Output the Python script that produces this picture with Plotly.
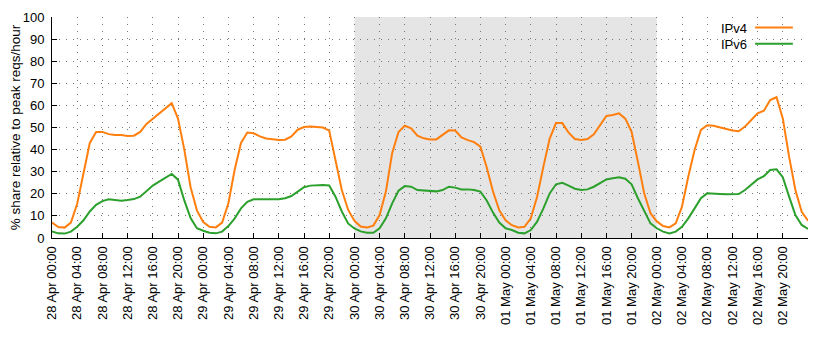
import pandas as pd
import plotly.graph_objects as go

# Hourly samples, 28 Apr 00:00 .. 03 May 00:00
start = "2013-04-28 00:00"
ipv4 = [
    7.0, 5.0, 4.7, 7.0, 15.5, 29.0, 43.0, 48.0, 48.0, 47.0, 46.6, 46.6, 46.2, 46.3, 48.0, 51.6, 54.0, 56.4, 58.7, 61.0, 54.0, 40.0, 23.0, 12.5,
    7.2, 5.1, 4.8, 7.0, 15.7, 31.0, 43.0, 47.7, 47.4, 46.0, 45.0, 44.5, 44.3, 44.5, 46.0, 49.0, 50.2, 50.5, 50.2, 50.0, 48.6, 35.0, 21.7, 12.8,
    7.8, 5.2, 4.8, 5.6, 10.4, 21.0, 38.5, 48.0, 50.8, 49.6, 46.3, 45.1, 44.6, 44.6, 46.6, 48.7, 48.6, 45.5, 44.3, 43.4, 41.3, 32.0, 21.0, 12.5,
    8.0, 5.8, 4.8, 5.1, 8.9, 18.7, 32.3, 45.0, 52.0, 52.0, 47.7, 44.8, 44.3, 44.8, 46.9, 51.0, 55.2, 55.7, 56.4, 54.0, 48.0, 34.5, 20.2, 11.2,
    7.5, 5.4, 4.8, 6.6, 14.2, 27.8, 39.8, 48.9, 51.0, 50.8, 50.0, 49.2, 48.6, 48.3, 50.4, 53.4, 56.4, 57.6, 62.4, 63.7, 54.1, 36.8, 21.7, 11.9,
    7.8,
]
ipv6 = [
    3.0, 2.1, 2.0, 2.9, 5.1, 8.0, 12.0, 15.0, 16.7, 17.5, 17.2, 16.9, 17.2, 17.6, 18.7, 21.0, 23.7, 25.5, 27.3, 29.0, 26.4, 17.0, 9.0, 4.4,
    3.3, 2.4, 2.1, 2.9, 5.4, 8.9, 13.4, 16.4, 17.5, 17.5, 17.2, 17.2, 17.5, 18.0, 19.0, 21.0, 23.0, 23.7, 24.0, 24.0, 23.8, 18.7, 12.0, 6.6,
    4.3, 3.0, 2.4, 2.4, 4.4, 8.9, 15.7, 21.4, 23.5, 23.2, 21.7, 21.4, 21.3, 21.1, 21.7, 23.2, 22.8, 22.0, 22.0, 21.7, 21.0, 17.0, 11.5, 7.0,
    4.4, 3.6, 2.4, 2.1, 3.6, 7.4, 13.4, 20.2, 24.3, 25.0, 23.7, 22.3, 21.7, 22.0, 23.2, 25.0, 26.5, 27.0, 27.5, 26.8, 24.3, 18.0, 12.0, 6.6,
    4.4, 2.9, 2.1, 2.9, 5.1, 8.9, 13.4, 18.0, 20.2, 20.2, 19.9, 19.8, 19.9, 19.9, 21.7, 24.3, 26.5, 28.0, 30.8, 31.1, 27.5, 18.7, 10.4, 5.9,
    4.1,
]
shade_start = "2013-04-30 00:00"
shade_end = "2013-05-02 00:00"
x_end = "2013-05-03 00:00"
tick_times = pd.date_range(start, periods=30, freq="4h")
tick_labels = [t.strftime("%d %b %H:%M") for t in tick_times]
y_ticks = list(range(0, 101, 10))

times = pd.date_range(start, periods=len(ipv4), freq="h")
ORANGE = "#ff7f0e"
GREEN = "#2ca02c"
FONT = "Liberation Sans, Arial, sans-serif"

fig = go.Figure()
fig.add_trace(go.Scatter(x=times, y=ipv4, mode="lines", name="IPv4",
                         line=dict(color=ORANGE, width=2)))
fig.add_trace(go.Scatter(x=times, y=ipv6, mode="lines", name="IPv6",
                         line=dict(color=GREEN, width=2)))

fig.add_shape(type="rect", xref="x", yref="y", x0=shade_start, x1=shade_end,
              y0=0, y1=100, fillcolor="#e5e5e5", line_width=0, layer="below")

# legend (text left, sample line right, like gnuplot)
leg_y = [0.952, 0.879]
for name, col, yy in zip(["IPv4", "IPv6"], [ORANGE, GREEN], leg_y):
    fig.add_annotation(xref="paper", yref="paper", x=0.921, y=yy, text=name,
                       showarrow=False, xanchor="right", yanchor="middle",
                       height=14, borderpad=0,
                       font=dict(size=13, color="black", family=FONT))
    fig.add_shape(type="line", xref="paper", yref="paper", x0=0.930, x1=0.980,
                  y0=yy, y1=yy, line=dict(color=col, width=2))

# page body adds an 8px offset; compensate so the plot area sits at 52..808 x 17..238
fig.update_layout(
    width=822, height=336,
    margin=dict(l=44, r=22, t=9, b=106),
    paper_bgcolor="white", plot_bgcolor="white",
    showlegend=False,
    font=dict(family=FONT, size=13, color="black"),
)
fig.update_xaxes(
    range=[start, x_end], tickvals=tick_times, ticktext=tick_labels,
    tickangle=-90, ticks="inside", ticklen=5, tickcolor="black",
    showline=True, linecolor="black", linewidth=1,
    showgrid=True, gridcolor="#777", gridwidth=1, griddash="1px,6px",
    zeroline=False, ticklabelstandoff=2, automargin=False,
    tickfont=dict(size=13, family=FONT),
)
fig.update_yaxes(
    range=[0, 100], tickvals=y_ticks, ticks="inside", ticklen=5, tickcolor="black",
    showline=True, linecolor="black", linewidth=1,
    showgrid=True, gridcolor="#777", gridwidth=1, griddash="1px,6px",
    zeroline=False, ticklabelstandoff=4, automargin=False,
    title=dict(text="% share relative to peak reqs/hour", standoff=4,
               font=dict(size=13.5, family=FONT)),
    tickfont=dict(size=13, family=FONT),
)
fig.write_html("out.html")
